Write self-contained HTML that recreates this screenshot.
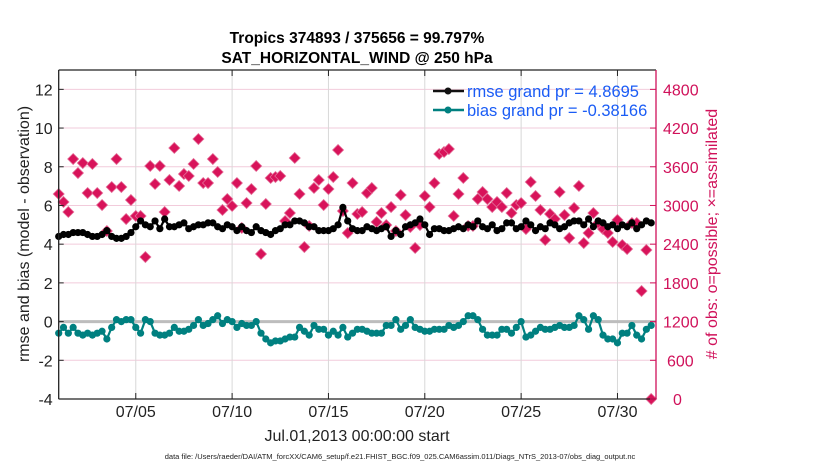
<!DOCTYPE html>
<html><head><meta charset="utf-8"><style>
html,body{margin:0;padding:0;background:#fff;}
svg{display:block;font-family:"Liberation Sans",sans-serif;}
</style></head><body>
<svg id="chart" width="830" height="470" viewBox="0 0 830 470">
<text x="357" y="43" text-anchor="middle" font-size="15.5" font-weight="bold">Tropics 374893 / 375656 = 99.797%</text>
<text x="357" y="63" text-anchor="middle" font-size="15.5" font-weight="bold">SAT_HORIZONTAL_WIND @ 250 hPa</text>
<g id="grid"></g>
<g id="marks"></g>
<g id="axes"></g>
<text transform="translate(29,234) rotate(-90)" text-anchor="middle" font-size="16" fill="#222">rmse and bias (model - observation)</text>
<text transform="translate(717,234) rotate(-90)" text-anchor="middle" font-size="16" fill="#d0115a"># of obs: o=possible; ×=assimilated</text>
<text x="357" y="441" text-anchor="middle" font-size="16" fill="#222">Jul.01,2013 00:00:00 start</text>
<text x="400" y="459" text-anchor="middle" font-size="7.5" fill="#222">data file: /Users/raeder/DAI/ATM_forcXX/CAM6_setup/f.e21.FHIST_BGC.f09_025.CAM6assim.011/Diags_NTrS_2013-07/obs_diag_output.nc</text>
<g>
<line x1="433" y1="91" x2="464" y2="91" stroke="#111" stroke-width="2.5"/>
<circle cx="448" cy="91" r="3.5" fill="#111"/>
<text x="467" y="97" font-size="16.5" fill="#1a5cf5">rmse grand pr = 4.8695</text>
<line x1="433" y1="110" x2="464" y2="110" stroke="#008080" stroke-width="2.5"/>
<circle cx="448" cy="110" r="3.5" fill="#008080"/>
<text x="467" y="116" font-size="16.5" fill="#1a5cf5">bias grand pr = -0.38166</text>
</g>
</svg>
<script>
const rmseValues=[4.4,4.5,4.5,4.6, 4.6,4.6,4.5,4.4, 4.4,4.5,4.7,4.4, 4.3,4.3,4.4,4.6, 4.9,5.2,5.0,4.9, 5.2,4.8,5.3,4.9, 4.9,5.0,5.1,4.8, 4.9,5.0,5.0,5.1, 5.1,4.9,4.8,5.0, 4.9,4.7,4.9,4.7, 4.6,4.9,4.7,4.6, 4.5,4.7,4.8,5.0, 5.0,5.2,5.2,5.1, 4.9,4.9,4.7,4.7, 4.7,4.8,5.0,5.9, 5.2,4.8,4.7,4.7, 4.9,4.8,4.7,4.8, 4.9,4.4,4.7,4.5, 4.9,5.0,5.1,5.3, 5.0,4.5,4.8,4.8, 4.7,4.7,4.8,4.9, 4.8,5.0,4.9,5.2, 4.9,4.8,5.0,4.7, 4.8,5.1,5.1,4.8, 4.9,5.2,5.0,4.7, 4.9,4.8,5.1,5.0, 4.8,4.9,5.1,5.2, 5.2,5.0,5.3,4.9, 5.2,5.1,4.9,5.0, 4.8,5.0,4.9,5.1, 4.8,5.0,5.2,5.1];
const biasValues=[-0.6,-0.3,-0.6,-0.3, -0.6,-0.7,-0.6,-0.7, -0.6,-0.5,-0.9,-0.3, 0.1,0.0,0.1,0.1, -0.3,-0.6,0.1,0.0, -0.6,-0.7,-0.7,-0.6, -0.3,-0.5,-0.5,-0.4, -0.2,0.1,-0.2,-0.1, 0.1,0.3,-0.1,0.1, 0.0,-0.3,-0.1,-0.2, -0.2,0.0,-0.6,-0.9, -1.1,-1.0,-1.0,-0.9, -0.8,-0.8,-0.3,-0.5, -0.7,-0.2,-0.4,-0.4, -0.7,-0.5,-0.7,-0.3, -0.8,-0.6,-0.4,-0.4, -0.5,-0.6,-0.6,-0.6, -0.2,-0.2,0.1,-0.4, -0.2,0.1,-0.3,-0.4, -0.5,-0.5,-0.4,-0.4, -0.4,-0.2,-0.3,-0.2, 0.0,0.3,0.3,0.1, -0.4,-0.7,-0.7,-0.7, -0.4,-0.4,-0.6,-0.3, 0.0,-0.8,-0.7,-0.5, -0.3,-0.4,-0.4,-0.3, -0.2,-0.3,-0.3,-0.2, 0.3,0.1,-0.4,0.3, 0.1,-0.7,-0.9,-0.9, -1.1,-0.6,-0.6,-0.2, -0.7,-0.9,-0.4,-0.2];
const obsCounts=[3178,3054,2899,3720,3503,3658,3193,3643,3193,3007,2604,3286,3720,3286,2790,3085,2837,2837,2201,3612,3333,3612,2899,3395,3891,3302,3488,3457,3643,4030,3348,3348,3720,3519,2930,3100,2992,3348,2651,3038,3255,3612,2248,3023,3426,3441,3457,2759,2883,3736,3178,2356,2682,3271,3395,3007,3255,3441,3860,2914,2573,3348,2868,2899,3193,3271,2744,2883,2697,2976,2604,3162,2852,2666,2341,2697,3147,2976,3348,3798,3829,3875,2837,3178,3426,2682,2682,3100,3209,3100,2976,3054,2976,3193,2883,3007,3038,2635,3364,3147,2930,2465,2868,2790,3209,2852,2496,2961,3302,2418,2573,2883,2728,2635,2573,2434,2775,2387,2325,2728,2728,1674,2310,0];
const leftTicks=[-4,-2,0,2,4,6,8,10,12];
const rightTicks=[0,600,1200,1800,2400,3000,3600,4200,4800];
const dateTickDays=[4,9,14,19,24,29];
const dateTickLabels=["07/05","07/10","07/15","07/20","07/25","07/30"];

const NS="http://www.w3.org/2000/svg";
const L=58.7,R=656,T=70,B=399;
const dayMin=0,dayMax=31,vMin=-4,vMax=13;
const xDay=d=>L+(d-dayMin)/(dayMax-dayMin)*(R-L);
const yVal=v=>B-(v-vMin)/(vMax-vMin)*(B-T);
const yCount=c=>yVal(c/300-4);
function mk(tag,attrs,parent){const e=document.createElementNS(NS,tag);for(const k in attrs)e.setAttribute(k,attrs[k]);parent.appendChild(e);return e;}
const grid=document.getElementById('grid'),marks=document.getElementById('marks'),axes=document.getElementById('axes');

leftTicks.forEach(v=>{
  if(v>vMin){const g=mk('line',{x1:L,x2:R,y1:yVal(v),y2:yVal(v),stroke:'#f2cbdb','stroke-width':1},grid);
  
  }
  const t=mk('text',{x:L-6,y:yVal(v)+6,'text-anchor':'end','font-size':16,fill:'#222'},axes);t.textContent=v;
  
  
  const tk=mk('line',{x1:L,x2:L+5,y1:yVal(v),y2:yVal(v),stroke:'#222'},axes);
  
  
});
dateTickDays.forEach((d,i)=>{
  const g=mk('line',{x1:xDay(d),x2:xDay(d),y1:T,y2:B,stroke:'#d8d8d8','stroke-width':1},grid);
  
  
  const t=mk('text',{x:xDay(d),y:417,'text-anchor':'middle','font-size':16,fill:'#222'},axes);t.textContent=dateTickLabels[i];
  
  
  const a=mk('line',{x1:xDay(d),x2:xDay(d),y1:B,y2:B-6,stroke:'#222'},axes);
  
  
  const b=mk('line',{x1:xDay(d),x2:xDay(d),y1:T,y2:T+6,stroke:'#222'},axes);
  
  
});
const zl=mk('line',{x1:L,x2:R,y1:yVal(0),y2:yVal(0),stroke:'#bdbdbd','stroke-width':3},grid);



// obs count markers
obsCounts.forEach((c,i)=>{
  const x=xDay(i*0.25),y=yCount(c);
  const p=mk('path',{d:`M${x} ${y-5.5}L${x+5.5} ${y}L${x} ${y+5.5}L${x-5.5} ${y}Z`,fill:'#d8135a',stroke:'#e46e98','stroke-width':0.8},marks);
  
  
});
function series(vals,color,name){
  const pts=vals.map((v,i)=>xDay(i*0.25).toFixed(2)+','+yVal(v).toFixed(2)).join(' ');
  const pl=mk('polyline',{points:pts,fill:'none',stroke:color,'stroke-width':2.2},marks);
  
  
  vals.forEach((v,i)=>{
    const c=mk('circle',{cx:xDay(i*0.25),cy:yVal(v),r:3.6,fill:color},marks);
    
    
  });
}
series(rmseValues,'#000','rmse');
series(biasValues,'#008080','bias');

// axes frame
const fr=[[L,T,R,T,'#222'],[L,T,L,B,'#222'],[L,B,R,B,'#222'],[R,T,R,B,'#d0115a']];
fr.forEach(f=>{const l=mk('line',{x1:f[0],y1:f[1],x2:f[2],y2:f[3],stroke:f[4],'stroke-width':1.3},axes);
  
  });
rightTicks.forEach(c=>{
  const t=mk('text',{x:R+7,y:yCount(c)+6,'font-size':16,fill:'#d0115a'},axes);t.textContent=c;
  if(c===0)t.setAttribute('x',R+17);
  if(c===600)t.setAttribute('x',R+11);
  
  
  const tk=mk('line',{x1:R-6,x2:R,y1:yCount(c),y2:yCount(c),stroke:'#d0115a'},axes);
  
  
});
</script>
</body></html>
